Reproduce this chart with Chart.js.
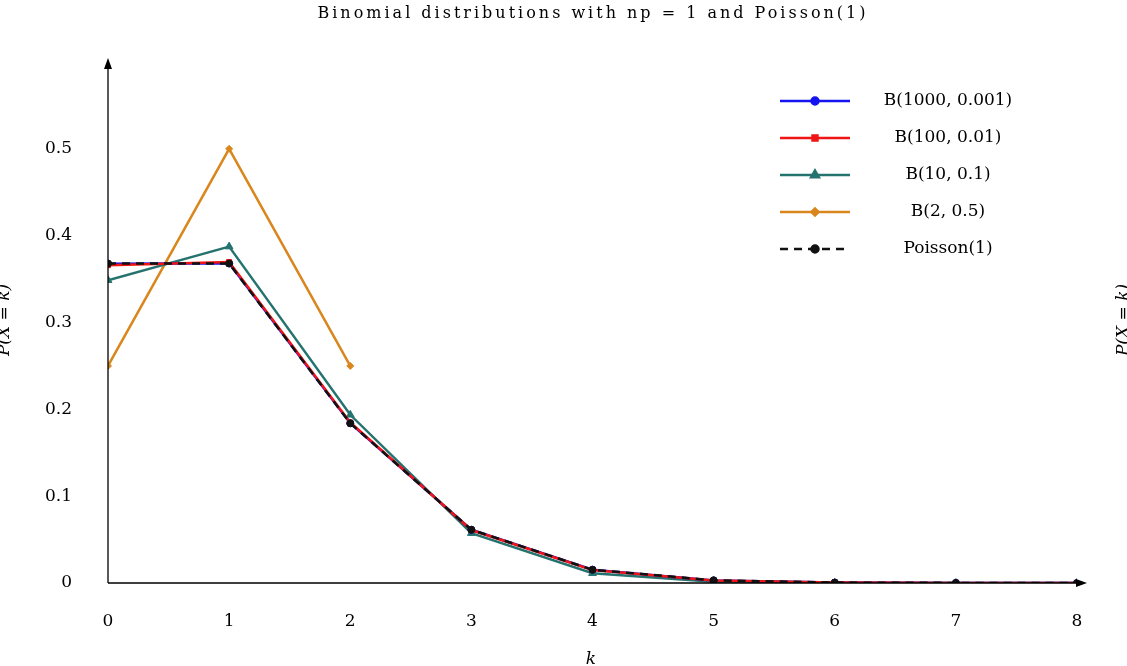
<!DOCTYPE html>
<html>
<head>
<meta charset="utf-8">
<script src="https://cdn.jsdelivr.net/npm/chart.js@4"></script>
<style>
html,body{margin:0;padding:0;background:#fff;}
#wrap{width:1127px;height:666px;}
</style>
</head>
<body>
<div id="wrap"><canvas id="c"></canvas></div>
<script>
var ks = [0, 1, 2, 3, 4, 5, 6, 7, 8];
var b1000 = [0.3677, 0.3681, 0.1840, 0.0613, 0.0153, 0.0030, 0.0005, 0.0001, 0.00001];
var b100 = [0.3660, 0.3697, 0.1849, 0.0610, 0.0149, 0.0029, 0.0005, 0.0001, 0.00001];
var b10 = [0.3487, 0.3874, 0.1937, 0.0574, 0.0112, 0.0015, 0.0001, 0.0000, 0.0000];
var b2 = [0.25, 0.5, 0.25];
var poisson = [0.3679, 0.3679, 0.1839, 0.0613, 0.0153, 0.0031, 0.0005, 0.0001, 0.00001];
var yTicks = [0, 0.1, 0.2, 0.3, 0.4, 0.5];

var serif = "'DejaVu Serif', 'Liberation Serif', serif";

function pts(arr){
	return arr.map(function(v, i){ return {x: ks[i], y: v}; });
}

function ds(label, data, color, style, dash){
	return {
		label: label, data: pts(data), borderColor: color, backgroundColor: color,
		borderWidth: 2.5, pointStyle: style, pointRadius: style == 'triangle' ? 4.5 : 3.5,
		tension: 0, borderDash: dash || [], pointBorderWidth: 1
	};
}

// 먼저 있는 데이터셋이 위에 그려짐
var sets = [
	ds('Poisson(1)', poisson, '#111111', 'circle', [8, 6]),
	ds('B(100, 0.01)', b100, '#f01414', 'rect'),
	ds('B(1000, 0.001)', b1000, '#1414f0', 'circle'),
	ds('B(10, 0.1)', b10, '#25736f', 'triangle'),
	ds('B(2, 0.5)', b2, '#d9861c', 'rectRot')
];
var legendOrder = [2, 1, 3, 4, 0];

// 축 화살표, 제목, 범례
var deco = {
	id: 'deco',
	afterDraw: function(chart){
		var c = chart.ctx, a = chart.chartArea;
		c.save();
		c.strokeStyle = '#000'; c.lineWidth = 1.3;
		c.beginPath();
		c.moveTo(a.left, a.bottom); c.lineTo(a.left, a.top);
		c.moveTo(a.left, a.bottom); c.lineTo(a.right + 6, a.bottom);
		c.stroke();
		c.fillStyle = '#000';
		c.beginPath(); c.moveTo(a.left, a.top - 4); c.lineTo(a.left - 4, a.top + 7); c.lineTo(a.left + 4, a.top + 7); c.fill();
		c.beginPath(); c.moveTo(a.right + 10, a.bottom); c.lineTo(a.right - 1, a.bottom - 4); c.lineTo(a.right - 1, a.bottom + 4); c.fill();

		c.font = '16px ' + serif; c.textAlign = 'center'; c.textBaseline = 'middle';
		c.letterSpacing = '3px';
		c.fillText('Binomial distributions with np = 1 and Poisson(1)', 593, 14);
		c.letterSpacing = '0px';
		c.font = 'italic 17px ' + serif;
		c.fillText('k', 591, 660);
		c.save(); c.translate(5, 320); c.rotate(-Math.PI / 2); c.fillText('P(X = k)', 0, 0); c.restore();
		c.save(); c.translate(1124, 320); c.rotate(-Math.PI / 2); c.fillText('P(X = k)', 0, 0); c.restore();

		// 범례
		legendOrder.forEach(function(idx, i){
			var d = sets[idx], y = 101 + i * 37;
			c.strokeStyle = d.borderColor; c.lineWidth = 2.5;
			c.setLineDash(d.borderDash);
			c.beginPath(); c.moveTo(780, y); c.lineTo(850, y); c.stroke();
			c.setLineDash([]);
			Chart.helpers.drawPoint(c, {pointStyle: d.pointStyle, radius: d.pointRadius, borderWidth: 1}, 815, y);
			c.fillStyle = d.borderColor; c.fill();
			c.fillStyle = '#000'; c.font = '17px ' + serif; c.textAlign = 'center';
			c.fillText(d.label, 948, y);
		});
		c.restore();
	}
};

new Chart(document.getElementById('c'), {
	type: 'line',
	data: { datasets: sets },
	plugins: [deco],
	options: {
		responsive: true, maintainAspectRatio: false, animation: false,
		layout: { padding: { top: 62, right: 50, left: 0, bottom: 0 } },
		plugins: { legend: { display: false }, tooltip: { enabled: false } },
		scales: {
			x: {
				type: 'linear', min: 0, max: 8,
				grid: { display: false, drawTicks: true, tickLength: 0 },
				border: { display: false },
				ticks: { stepSize: 1, color: '#000', padding: 28, font: { family: serif, size: 17 } },
				afterFit: function(s){ s.height = 83; }
			},
			y: {
				min: 0, max: 0.6,
				grid: { display: false },
				border: { display: false },
				afterBuildTicks: function(s){ s.ticks = yTicks.map(function(v){ return {value: v}; }); },
				ticks: { color: '#000', padding: 28, font: { family: serif, size: 17 },
					callback: function(v){ return v == 0 ? '0' : String(Math.round(v * 10) / 10); } },
				afterFit: function(s){ s.width = 108; }
			}
		}
	}
});
</script>
</body>
</html>
